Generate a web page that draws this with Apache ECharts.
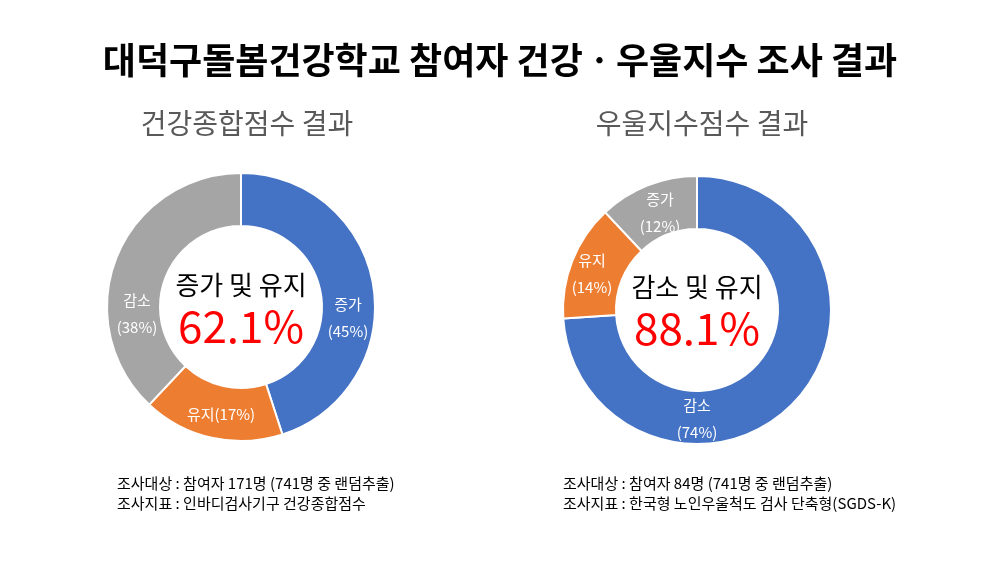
<!DOCTYPE html>
<html style="height: 100%">
<head>
    <meta charset="utf-8">
    <title>ECharts</title>
    <script src="https://cdn.jsdelivr.net/npm/echarts@6/dist/echarts.min.js"></script>
</head>
<body style="height: 100%; margin: 0; background: #fff">
<div id="main" style="width: 1000px; height: 563px"></div>

<script type="text/javascript">
    // 건강종합점수
    var healthNames = ['증가', '유지', '감소'];
    var healthValues = [45, 17, 38];
    // 우울지수점수
    var depNames = ['감소', '유지', '증가'];
    var depValues = [74, 14, 12];

    var healthCenter = ['증가 및 유지', '62.1%'];
    var depCenter = ['감소 및 유지', '88.1%'];

    var notesLeft = ['조사대상 : 참여자 171명 (741명 중 랜덤추출)', '조사지표 : 인바디검사기구 건강종합점수'];
    var notesRight = ['조사대상 : 참여자 84명 (741명 중 랜덤추출)', '조사지표 : 한국형 노인우울척도 검사 단축형(SGDS-K)'];

    var colorMap = {'증가': '#4472C4', '유지': '#ED7D31', '감소': '#A5A5A5'};
    var font = '"Noto Sans CJK KR", "Noto Sans", sans-serif';

    // 라벨 위치 (원본처럼 수동 배치)
    var labelPos = [
        [[348, 318], [221, 414], [137, 314]],
        [[697, 419], [592, 274], [660, 213]]
    ];

    function makeData(names, values, colors, oneLine) {
        var arr = [];
        for (var i = 0; i < names.length; i++) {
            var name = names[i];
            arr.push({
                name: name,
                value: values[i],
                itemStyle: {color: colors[i]},
                label: {
                    formatter: oneLine.indexOf(name) >= 0 ? '{b}({c}%)' : '{b}\n({c}%)'
                }
            });
        }
        return arr;
    }

    var myChart = echarts.init(document.getElementById('main'));

    var pieBase = {
        type: 'pie',
        radius: [81, 134],
        startAngle: 90,
        clockwise: true,
        silent: true,
        itemStyle: {borderColor: '#fff', borderWidth: 2},
        label: {
            position: 'inside',
            color: '#fff',
            fontFamily: font,
            fontSize: 15,
            lineHeight: 27
        },
        labelLine: {show: false},
        labelLayout: function (params) {
            var p = labelPos[params.seriesIndex][params.dataIndex];
            return {x: p[0], y: p[1], align: 'center', verticalAlign: 'middle'};
        }
    };

    var option = {
        backgroundColor: '#fff',
        title: [
            {
                text: '대덕구돌봄건강학교 참여자 건강ㆍ우울지수 조사 결과',
                left: 'center', top: 37,
                textStyle: {fontFamily: font, fontSize: 36, fontWeight: 'bold', color: '#000'}
            },
            {
                text: '건강종합점수 결과',
                left: 242, top: 104, textAlign: 'center',
                textStyle: {fontFamily: font, fontSize: 28, fontWeight: 'normal', color: '#595959'}
            },
            {
                text: '우울지수점수 결과',
                left: 697, top: 104, textAlign: 'center',
                textStyle: {fontFamily: font, fontSize: 28, fontWeight: 'normal', color: '#595959'}
            }
        ],
        graphic: [
            {type: 'text', x: 241, y: 285, style: {text: healthCenter[0], fill: '#000', font: '26px ' + font, align: 'center', verticalAlign: 'middle'}},
            {type: 'text', x: 241, y: 326, style: {text: healthCenter[1], fill: '#FF0000', font: '44px ' + font, align: 'center', verticalAlign: 'middle'}},
            {type: 'text', x: 697, y: 287, style: {text: depCenter[0], fill: '#000', font: '26px ' + font, align: 'center', verticalAlign: 'middle'}},
            {type: 'text', x: 697, y: 328, style: {text: depCenter[1], fill: '#FF0000', font: '44px ' + font, align: 'center', verticalAlign: 'middle'}},
            {type: 'text', x: 117, y: 473, style: {text: notesLeft.join('\n'), fill: '#000', font: '15px ' + font, lineHeight: 20}},
            {type: 'text', x: 563, y: 473, style: {text: notesRight.join('\n'), fill: '#000', font: '15px ' + font, lineHeight: 20}}
        ],
        series: [
            Object.assign({}, pieBase, {
                name: '건강종합점수',
                center: [241, 307],
                data: makeData(healthNames, healthValues,
                    healthNames.map(function (n) { return colorMap[n]; }), ['유지'])
            }),
            Object.assign({}, pieBase, {
                name: '우울지수점수',
                center: [697, 310],
                data: makeData(depNames, depValues,
                    ['#4472C4', '#ED7D31', '#A5A5A5'], [])
            })
        ]
    };
    myChart.setOption(option, true);
</script>
</body>
</html>
